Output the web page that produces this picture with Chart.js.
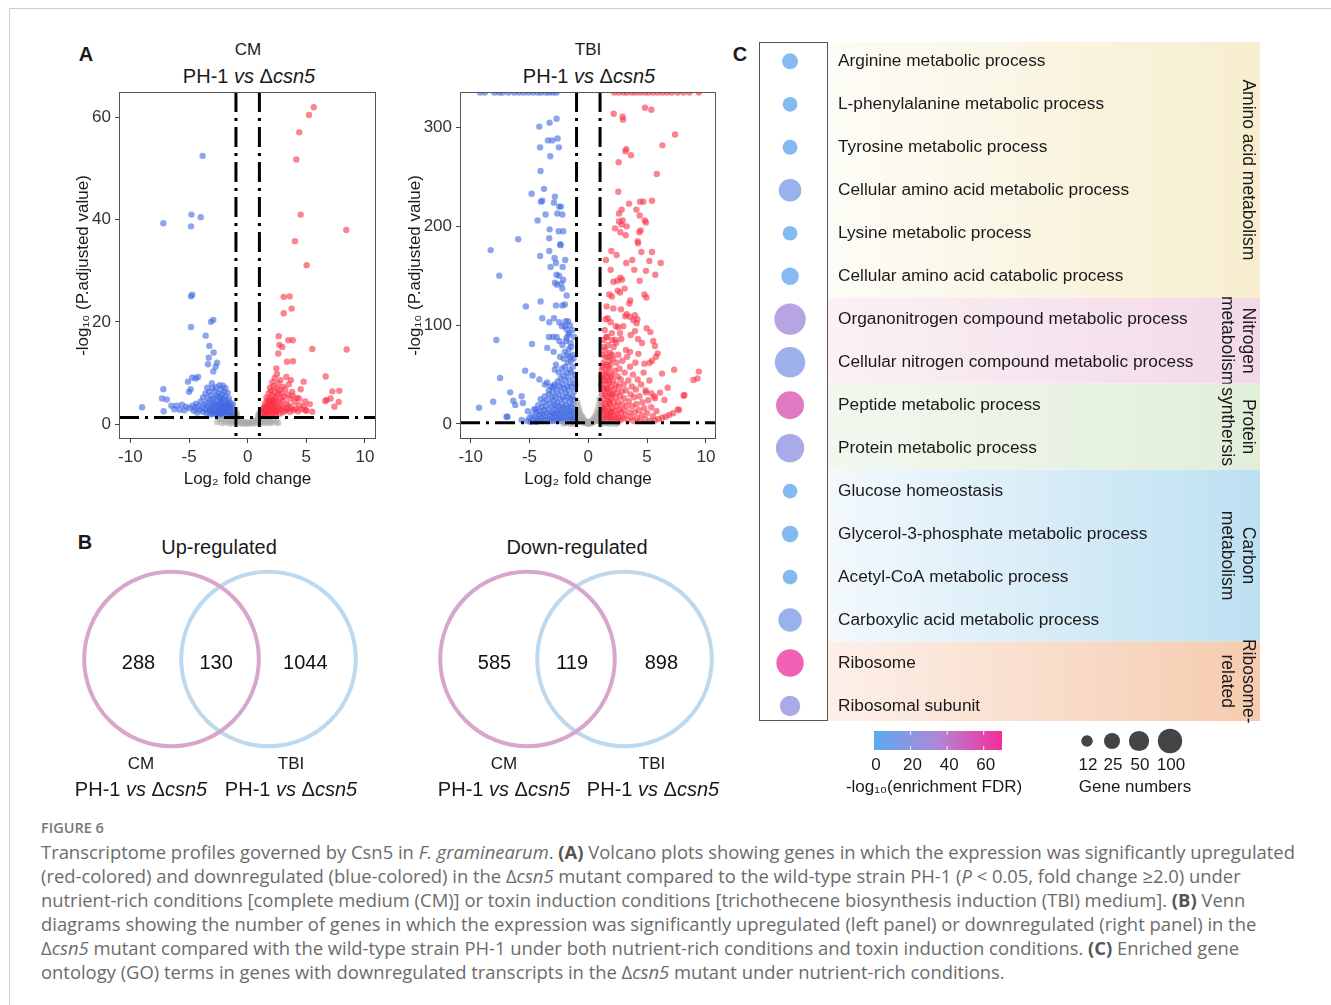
<!DOCTYPE html>
<html>
<head>
<meta charset="utf-8">
<script src="https://cdn.jsdelivr.net/npm/chart.js@4.4.1/dist/chart.umd.min.js"></script>
<style>
  body { margin: 0; background: #fff; font-family: "Liberation Sans", Arial, sans-serif; color: #1a1a1a; }
  #page { position: relative; width: 1331px; height: 1005px; overflow: hidden; }
  .frame { position: absolute; left: 9px; top: 8px; width: 1400px; height: 1100px; border-top: 1px solid #cfcfcf; border-left: 1px solid #cfcfcf; }
  canvas { position: absolute; }
  .t { position: absolute; transform: translate(-50%, -50%); white-space: nowrap; }
  .letter { font-weight: bold; font-size: 20px; }
  .s17 { font-size: 17px; }
  .s20 { font-size: 20px; }
  #caption { position: absolute; left: 41px; top: 818px; font-family: "Open Sans", Lato, sans-serif; color: #6b6b6b; white-space: nowrap; }
  #caption .fig { font-size: 14.5px; font-weight: 600; line-height: 20px; color: #777; margin-bottom: 2px; }
  #caption .ln { font-size: 18.4px; line-height: 24px; }
  #caption b { color: #555; }
</style>
</head>
<body>
<div id="page">
  <div class="frame"></div>

  <!-- panel A -->
  <div class="t letter" style="left:86px;top:54px">A</div>
  <div class="t s17" style="left:248px;top:50px">CM</div>
  <div class="t s20" style="left:249px;top:76px">PH-1 <i>vs</i> Δ<i>csn5</i></div>
  <div class="t s17" style="left:588px;top:50px">TBI</div>
  <div class="t s20" style="left:589px;top:76px">PH-1 <i>vs</i> Δ<i>csn5</i></div>
  <canvas id="volcanoCM" width="330" height="410" style="left:60px;top:85px"></canvas>
  <canvas id="volcanoTBI" width="330" height="410" style="left:400px;top:85px"></canvas>

  <!-- panel B -->
  <div class="t letter" style="left:85px;top:542px">B</div>
  <div class="t s20" style="left:219px;top:547px">Up-regulated</div>
  <div class="t s20" style="left:577px;top:547px">Down-regulated</div>
  <canvas id="vennUp" width="330" height="200" style="left:55px;top:559px"></canvas>
  <canvas id="vennDown" width="330" height="200" style="left:411px;top:559px"></canvas>
  <div class="t s17" style="left:141px;top:764px">CM</div>
  <div class="t s20" style="left:141px;top:789px">PH-1 <i>vs</i> Δ<i>csn5</i></div>
  <div class="t s17" style="left:291px;top:764px">TBI</div>
  <div class="t s20" style="left:291px;top:789px">PH-1 <i>vs</i> Δ<i>csn5</i></div>
  <div class="t s17" style="left:504px;top:764px">CM</div>
  <div class="t s20" style="left:504px;top:789px">PH-1 <i>vs</i> Δ<i>csn5</i></div>
  <div class="t s17" style="left:652px;top:764px">TBI</div>
  <div class="t s20" style="left:653px;top:789px">PH-1 <i>vs</i> Δ<i>csn5</i></div>

  <!-- panel C -->
  <div class="t letter" style="left:740px;top:54px">C</div>
  <canvas id="goChart" width="540" height="780" style="left:730px;top:26px"></canvas>

  <div id="caption">
    <div class="fig">FIGURE 6</div>
    <div class="ln">Transcriptome profiles governed by Csn5 in <i>F. graminearum</i>. <b>(A)</b> Volcano plots showing genes in which the expression was significantly upregulated</div>
    <div class="ln">(red-colored) and downregulated (blue-colored) in the Δ<i>csn5</i> mutant compared to the wild-type strain PH-1 (<i>P</i> &lt; 0.05, fold change ≥2.0) under</div>
    <div class="ln">nutrient-rich conditions [complete medium (CM)] or toxin induction conditions [trichothecene biosynthesis induction (TBI) medium]. <b>(B)</b> Venn</div>
    <div class="ln">diagrams showing the number of genes in which the expression was significantly upregulated (left panel) or downregulated (right panel) in the</div>
    <div class="ln">Δ<i>csn5</i> mutant compared with the wild-type strain PH-1 under both nutrient-rich conditions and toxin induction conditions. <b>(C)</b> Enriched gene</div>
    <div class="ln">ontology (GO) terms in genes with downregulated transcripts in the Δ<i>csn5</i> mutant under nutrient-rich conditions.</div>
  </div>
</div>

<script>
// ---------------- DATA ----------------
// volcano thresholds
const fcCut = 1;          // |log2 fold change|
const padjCut = 1.30;     // -log10(0.05)

// CM: [log2FC, -log10 padj]
const cmDown = [
  [-3.84,52.5],[-7.19,39.3],[-4.8,41.0],[-4.83,38.7],[-4.0,40.5],[-4.83,25.0],[-4.72,25.3],[-4.83,19.0],
  [-3.13,20.0],[-2.93,20.4],[-3.58,17.3],[-3.27,15.3],[-2.9,14.0],[-3.32,13.0],[-3.38,11.7],[-2.61,12.0],
  [-2.73,11.2],[-2.93,10.3],[-5.09,8.3],[-4.72,9.1],[-4.23,9.2],[-4.43,8.9],[-7.19,6.8],[-7.3,5.0],
  [-9.0,3.3],[-7.16,2.5],[-5.0,6.3],[-4.86,6.8],[-6.9,4.8],[-6.5,3.6],[-6.05,3.6],[-5.6,3.8],[-5.25,3.4],
  [-6.25,2.9],[-5.8,2.8],[-5.4,2.7],[-4.95,3.1],[-3.45,7.1],[-3.05,8.0],
  [-1.1,1.5],[-1.2,2.0],[-1.3,1.6],[-1.3,2.8],[-1.4,1.9],[-1.4,3.5],[-1.5,2.4],[-1.5,4.2],[-1.6,1.7],
  [-1.6,3.1],[-1.6,5.0],[-1.7,2.2],[-1.7,3.8],[-1.7,6.1],[-1.8,1.6],[-1.8,2.9],[-1.8,4.6],[-1.9,2.1],
  [-1.9,3.4],[-1.9,5.4],[-1.9,7.0],[-2.0,1.8],[-2.0,2.6],[-2.0,4.1],[-2.0,6.3],[-2.1,1.5],[-2.1,3.0],
  [-2.1,4.9],[-2.1,7.5],[-2.2,2.3],[-2.2,3.7],[-2.2,5.8],[-2.3,1.7],[-2.3,2.9],[-2.3,4.4],[-2.3,6.8],
  [-2.4,2.0],[-2.4,3.3],[-2.4,5.2],[-2.4,7.6],[-2.5,1.6],[-2.5,2.7],[-2.5,4.0],[-2.5,6.0],[-2.6,2.2],
  [-2.6,3.6],[-2.6,5.5],[-2.7,1.9],[-2.7,3.0],[-2.7,4.7],[-2.7,7.2],[-2.8,2.5],[-2.8,3.9],[-2.8,6.4],
  [-2.9,2.0],[-2.9,3.3],[-2.9,5.1],[-3.0,2.7],[-3.0,4.2],[-3.0,7.0],[-3.1,2.2],[-3.1,3.6],[-3.1,5.6],
  [-3.2,1.8],[-3.2,3.0],[-3.2,4.6],[-3.3,2.5],[-3.3,6.3],[-3.4,3.4],[-3.4,5.0],[-3.5,2.1],[-3.5,4.1],
  [-3.6,2.9],[-3.6,6.0],[-3.7,3.8],[-3.8,2.4],[-3.8,5.2],[-3.9,3.2],[-4.0,4.4],[-4.1,2.7],[-4.2,3.5],
  [-4.3,2.2],[-4.4,4.0],[-4.5,3.1],[-4.6,2.6],[-4.7,3.6],[-1.25,3.9],[-1.45,2.6],[-1.55,3.3],[-1.65,4.1],
  [-1.75,2.6],[-1.85,3.6],[-1.95,2.4],[-2.05,3.4],[-2.15,2.5],[-2.25,4.9],[-2.35,3.8],[-2.45,2.6]
];
const cmUp = [
  [5.63,62.0],[5.23,60.5],[4.4,57.1],[4.15,51.8],[4.52,41.0],[8.41,38.0],[4.03,35.8],[5.03,31.1],
  [3.07,24.9],[3.58,25.0],[3.75,22.6],[3.07,21.7],[2.64,17.2],[3.47,16.4],[3.84,16.4],[2.7,15.5],
  [2.95,15.1],[5.51,14.7],[8.44,14.6],[2.61,13.8],[3.35,12.2],[3.86,12.3],[2.44,10.9],[6.65,9.3],
  [4.77,8.3],[3.69,8.6],[4.52,6.8],[7.22,6.4],[7.81,6.5],[7.07,5.0],[6.62,4.5],[6.73,4.7],[7.76,4.3],
  [7.39,3.4],[4.9,4.4],[5.5,2.4],[4.94,2.7],[4.37,5.0],[3.84,5.5],
  [1.1,1.4],[1.2,1.8],[1.3,1.5],[1.3,2.6],[1.4,2.0],[1.4,3.3],[1.5,1.6],[1.5,2.8],[1.5,4.1],[1.6,2.2],
  [1.6,3.6],[1.6,5.2],[1.7,1.7],[1.7,3.0],[1.7,4.6],[1.8,2.4],[1.8,3.9],[1.8,6.0],[1.9,1.9],[1.9,3.2],
  [1.9,5.0],[1.9,7.1],[2.0,2.6],[2.0,4.3],[2.0,6.5],[2.1,1.6],[2.1,3.5],[2.1,5.6],[2.1,8.2],[2.2,2.2],
  [2.2,4.0],[2.2,7.4],[2.3,2.9],[2.3,4.8],[2.3,6.2],[2.3,9.0],[2.4,1.8],[2.4,3.6],[2.4,5.4],[2.5,2.5],
  [2.5,4.4],[2.5,7.0],[2.5,9.8],[2.6,3.1],[2.6,5.9],[2.6,8.0],[2.7,2.0],[2.7,4.0],[2.7,6.6],[2.8,2.8],
  [2.8,5.0],[2.8,8.6],[2.9,3.5],[2.9,6.0],[3.0,2.3],[3.0,4.6],[3.0,7.3],[3.1,3.1],[3.1,5.4],[3.2,2.6],
  [3.2,6.8],[3.3,4.0],[3.3,9.2],[3.4,2.9],[3.4,5.8],[3.5,3.6],[3.5,7.8],[3.6,2.4],[3.6,5.0],[3.7,3.2],
  [3.8,6.3],[3.9,2.7],[4.0,4.3],[4.1,3.0],[4.2,5.1],[4.3,2.5],[4.4,3.7],[4.6,2.9],[4.8,3.4],[5.0,2.6],
  [5.3,3.9],[1.25,2.2],[1.35,3.0],[1.45,2.4],[1.55,3.4],[1.65,2.7],[1.75,3.6],[1.85,4.4],[1.95,2.8],
  [2.05,3.7],[2.15,4.6],[2.25,3.2],[2.35,2.4]
];
const cmNs = [
  [-2.6,0.4],[-2.4,0.9],[-2.2,0.2],[-2.0,0.6],[-1.9,1.1],[-1.8,0.3],[-1.6,0.8],[-1.5,0.1],[-1.4,0.5],
  [-1.3,1.0],[-1.2,0.3],[-1.1,0.7],[-1.0,0.2],[-0.9,1.0],[-0.8,0.4],[-0.7,0.1],[-0.6,0.6],[-0.5,0.3],
  [-0.4,0.05],[-0.3,0.4],[-0.2,0.15],[-0.1,0.3],[0.0,0.05],[0.1,0.25],[0.2,0.1],[0.3,0.4],[0.4,0.2],
  [0.5,0.6],[0.6,0.1],[0.7,0.8],[0.8,0.3],[0.9,1.1],[1.0,0.5],[1.1,0.2],[1.2,0.9],[1.3,0.4],[1.4,1.0],
  [1.5,0.2],[1.6,0.7],[1.7,0.3],[1.8,1.0],[1.9,0.5],[2.0,0.2],[2.2,0.8],[2.4,0.4],[2.6,0.2],
  [-0.9,1.6],[0.9,1.7],[-0.95,2.2],[0.95,2.0]
];

// TBI: [log2FC, -log10 padj]  (values at 335.5 are capped at the panel top)
const tbiDown = [
  [-9.2,335.5],[-8.8,335.5],[-8.0,335.5],[-7.6,335.5],[-7.3,335.5],[-6.8,335.5],[-6.3,335.5],[-5.9,335.5],
  [-5.5,335.5],[-5.1,335.5],[-4.7,335.5],[-4.3,335.5],[-4.0,335.5],[-3.6,335.5],[-3.3,335.5],[-3.0,335.5],[-2.7,335.5],
  [-4.17,301],[-3.29,305],[-2.7,309],[-3.43,287],[-3.06,287],[-2.61,289],[-4.1,280],[-2.5,280],[-3.23,271],
  [-4.06,256],[-3.77,238],[-4.82,233],[-3.91,226],[-4.03,225],[-2.84,230],[-2.92,224],[-2.47,220],[-2.33,220],
  [-2.64,213],[-2.21,212],[-3.63,212],[-4.31,206],[-3.29,197],[-3.32,188],[-2.52,195],[-2.13,195],[-5.96,187],
  [-2.38,182],[-2.36,181],[-8.3,176],[-3.32,175],[-4.09,170],[-2.87,168],[-1.96,166],[-2.75,163],[-3.21,159],
  [-2.18,159],[-7.57,150],[-2.7,151],[-2.48,150],[-2.13,146],[-2.3,142],[-2.21,137],[-2.84,143],[-2.67,141],
  [-1.84,130],[-4.06,124],[-2.75,120],[-2.21,120],[-1.99,121],[-5.31,119],[-3.91,107],[-2.92,107],[-1.73,104],
  [-1.93,104],[-3.32,103],[-2.47,103],[-2.24,99],[-1.99,99],[-7.82,85],[-4.79,81],[-3.35,88],[-3.01,88],
  [-2.7,88],[-2.47,84],[-1.84,87],[-1.62,92],[-3.49,77],[-2.95,73],[-5.37,54],[-4.74,49],[-7.5,46.5],
  [-4.16,45],[-2.84,55],[-6.64,32],[-8.09,22.6],[-9.29,16.5],[-6.38,23.6],[-6.21,19.2],[-5.56,21.2],
  [-5.67,28],[-6.87,7.4],[-6.95,7.4],[-5.14,13],[-5.67,4],[-4.48,14.8],[-3.69,40],[-3.35,34],[-2.98,38],
  [-1.05,3],[-1.1,8],[-1.1,15],[-1.15,24],[-1.2,4],[-1.2,33],[-1.25,12],[-1.25,45],[-1.3,6],[-1.3,20],
  [-1.3,58],[-1.35,28],[-1.35,70],[-1.4,2],[-1.4,10],[-1.4,38],[-1.45,17],[-1.45,52],[-1.5,5],[-1.5,26],
  [-1.5,82],[-1.5,64],[-1.55,13],[-1.55,41],[-1.6,3],[-1.6,22],[-1.6,55],[-1.65,9],[-1.65,34],[-1.65,76],
  [-1.7,16],[-1.7,47],[-1.7,90],[-1.75,4],[-1.75,28],[-1.75,62],[-1.8,11],[-1.8,38],[-1.8,70],[-1.85,19],
  [-1.85,52],[-1.9,6],[-1.9,31],[-1.9,84],[-1.95,14],[-1.95,44],[-2.0,2],[-2.0,24],[-2.0,58],[-2.0,73],
  [-2.05,9],[-2.05,36],[-2.1,17],[-2.1,49],[-2.1,66],[-2.15,4],[-2.15,27],[-2.2,12],[-2.2,40],[-2.2,80],
  [-2.25,20],[-2.25,56],[-2.3,7],[-2.3,33],[-2.35,15],[-2.35,46],[-2.4,3],[-2.4,25],[-2.4,68],[-2.45,10],
  [-2.45,38],[-2.5,18],[-2.5,52],[-2.55,6],[-2.55,30],[-2.6,13],[-2.6,43],[-2.65,22],[-2.7,4],[-2.7,35],
  [-2.75,11],[-2.75,60],[-2.8,19],[-2.8,28],[-2.85,7],[-2.85,40],[-2.9,15],[-2.95,3],[-2.95,24],[-3.0,10],
  [-3.0,33],[-3.05,18],[-3.1,6],[-3.1,27],[-3.15,12],[-3.2,38],[-3.2,3],[-3.25,21],[-3.3,9],[-3.35,30],
  [-3.4,15],[-3.45,5],[-3.5,24],[-3.5,42],[-3.55,11],[-3.6,18],[-3.65,4],[-3.7,28],[-3.7,8],[-3.75,14],
  [-3.8,22],[-3.85,3],[-3.9,10],[-3.95,17],[-4.0,6],[-4.05,25],[-4.1,13],[-4.15,3],[-4.2,9],[-4.25,19],
  [-4.3,5],[-4.4,12],[-4.45,2],[-4.5,7],[-4.6,15],[-4.7,4],[-4.8,9],[-4.9,2],[-5.0,6],[-5.2,3],
  [-1.15,50],[-1.2,88],[-1.25,66],[-1.35,95],[-1.45,78],[-1.55,100],[-1.6,68],[-1.85,96],[-1.1,40]
];
const tbiUp = [
  [2.2,335.5],[2.6,335.5],[3.0,335.5],[3.3,335.5],[3.7,335.5],[4.0,335.5],[4.4,335.5],[4.8,335.5],[5.1,335.5],
  [5.5,335.5],[5.9,335.5],[6.3,335.5],[6.7,335.5],[7.1,335.5],[7.6,335.5],[8.1,335.5],[8.6,335.5],[9.4,335.5],
  [4.82,320],[5.36,318],[2.16,314],[2.92,311],[2.95,308],[7.38,293],[6.3,282],[3.23,278],[3.15,276],
  [3.63,272],[2.58,265],[5.82,253],[2.55,235],[5.42,226],[4.4,225],[4.68,225],[3.46,223],[4.09,217],
  [2.84,217],[2.61,213],[4.37,211],[2.92,206],[2.61,205],[2.84,202],[4.8,206],[4.9,204],[2.27,198],
  [3.26,200],[2.72,194],[3.18,191],[4.45,196],[4.34,194],[4.2,185],[4.23,183],[1.96,175],[2.41,171],
  [4.51,174],[5.42,174],[3.74,166],[5.19,165],[6.16,163],[1.5,166],[3.23,163],[1.9,156],[3.91,156],
  [4.9,155],[5.7,151],[2.72,148],[2.13,144],[2.47,145],[2.87,146],[4.37,145],[3.09,137],[2.5,135],
  [2.7,133],[1.79,131],[2.01,129],[4.77,131],[4.94,128],[3.57,125],[3.49,122],[1.56,119],[2.13,117],
  [2.78,116],[3.26,111],[3.15,109],[3.55,108.5],[3.97,110],[4.17,106],[3.83,105],[4.11,102],[1.65,107],
  [1.47,106],[1.9,103],[2.35,99],[2.55,98],[2.98,99],[4.96,97],[5.28,93],[3.97,94],[3.6,90],[2.7,92],
  [4.23,86],[4.57,82],[5.52,84],[5.67,79],[1.59,88],[2.04,85],[2.38,82],[3.2,75],[3.55,73],[4.26,71],
  [5.76,68],[5.9,71.5],[5.22,62],[5.42,64],[4.77,61],[7.3,55],[6.27,51],[9.4,53],[8.94,44.5],[9.28,46],
  [6.75,36.7],[8.17,29.3],[8.11,28.6],[6.1,31.7],[6.47,24.3],[5.67,26],[4.88,34],[5.36,31],[7.61,14.8],
  [7.72,14.2],[7.21,10.8],[6.87,9.1],[6.58,7.4],[6.27,6.4],[5.96,5],[5.65,3.4],
  [1.05,2],[1.05,12],[1.1,6],[1.1,22],[1.1,40],[1.15,30],[1.15,55],[1.2,3],[1.2,16],[1.2,70],[1.25,9],
  [1.25,45],[1.3,25],[1.3,85],[1.3,62],[1.35,5],[1.35,35],[1.4,14],[1.4,50],[1.4,95],[1.45,20],[1.45,75],
  [1.5,2],[1.5,40],[1.5,60],[1.55,10],[1.55,28],[1.55,88],[1.6,4],[1.6,18],[1.6,48],[1.65,35],[1.65,68],
  [1.7,8],[1.7,24],[1.7,80],[1.75,14],[1.75,55],[1.8,3],[1.8,32],[1.8,42],[1.85,20],[1.85,72],[1.9,7],
  [1.9,26],[1.9,60],[1.95,12],[1.95,38],[2.0,4],[2.0,50],[2.0,92],[2.05,16],[2.05,30],[2.1,8],[2.1,44],
  [2.1,66],[2.15,22],[2.15,78],[2.2,3],[2.2,35],[2.25,13],[2.25,54],[2.3,27],[2.3,85],[2.35,6],[2.35,40],
  [2.4,18],[2.4,62],[2.45,10],[2.45,32],[2.5,2],[2.5,48],[2.55,22],[2.55,70],[2.6,7],[2.6,38],[2.65,15],
  [2.65,56],[2.7,28],[2.75,4],[2.75,45],[2.8,12],[2.8,86],[2.85,33],[2.9,20],[2.9,64],[2.95,6],[3.0,40],
  [3.0,14],[3.05,26],[3.1,52],[3.15,9],[3.2,34],[3.25,18],[3.3,68],[3.35,4],[3.4,44],[3.45,23],[3.5,12],
  [3.55,58],[3.6,30],[3.65,7],[3.7,38],[3.75,18],[3.8,50],[3.85,3],[3.9,27],[3.95,12],[4.0,62],[4.05,35],
  [4.1,20],[4.15,6],[4.2,45],[4.3,14],[4.35,28],[4.4,3],[4.5,40],[4.55,9],[4.6,22],[4.7,52],[4.75,16],
  [4.85,5],[4.9,32],[5.0,11],[5.1,24],[5.2,44],[5.25,3],[5.35,17],[5.5,8],[5.6,28],[5.8,13],
  [1.08,18],[1.12,48],[1.18,36],[1.22,58],[1.28,14],[1.32,78],[1.38,44],[1.42,30],[1.48,68],[1.52,52],
  [1.58,36],[1.62,8],[1.68,58],[1.72,44],[1.78,22],[1.82,64],[1.88,12],[1.92,48],[1.98,30],[2.02,70]
];
const tbiNs = [
  [-0.95,22],[-0.9,15],[-0.9,8],[-0.85,18],[-0.8,11],[-0.8,4],[-0.75,14],[-0.7,7],[-0.7,2],[-0.65,10],
  [-0.6,5],[-0.55,8],[-0.5,3],[-0.45,6],[-0.4,1.5],[-0.35,4],[-0.3,2],[-0.25,3],[-0.2,1],[-0.15,2],
  [-0.1,0.5],[-0.05,1.5],[0,0.3],[0.05,1],[0.1,2],[0.15,0.5],[0.2,2.5],[0.25,1],[0.3,3],[0.35,1.5],
  [0.4,4.5],[0.45,2],[0.5,6],[0.55,3],[0.6,8],[0.65,4],[0.7,11],[0.75,6],[0.8,15],[0.8,3],[0.85,9],
  [0.9,20],[0.9,12],[0.95,25],[0.95,5],[-1.2,0.6],[-1.5,0.3],[-1.8,0.9],[-2.1,0.4],[1.2,0.5],[1.5,1.0],
  [1.8,0.3],[2.1,0.7],[2.4,0.2]
];

// Venn counts: [only CM, both, only TBI]
const vennSets = ['CM', 'TBI'];
const upCounts = [288, 130, 1044];
const downCounts = [585, 119, 898];

// GO enrichment (downregulated, CM)
const goTerms = [
  'Arginine metabolic process', 'L-phenylalanine metabolic process', 'Tyrosine metabolic process',
  'Cellular amino acid metabolic process', 'Lysine metabolic process', 'Cellular amino acid catabolic process',
  'Organonitrogen compound metabolic process', 'Cellular nitrogen compound metabolic process',
  'Peptide metabolic process', 'Protein metabolic process', 'Glucose homeostasis',
  'Glycerol-3-phosphate metabolic process', 'Acetyl-CoA metabolic process', 'Carboxylic acid metabolic process',
  'Ribosome', 'Ribosomal subunit'
];
const goGenes = [25, 20, 21, 74, 20, 32, 318, 270, 181, 193, 20, 27, 20, 85, 164, 51];
const goFdr = [4, 3, 3, 14, 3, 4, 30, 16, 55, 22, 2, 3, 3, 15, 67, 24];
const goGroups = [['Amino acid metabolism'], ['Nitrogen', 'metabolism'], ['Protein', 'synthersis'],
                  ['Carbon', 'metabolism'], ['Ribosome-', 'related']];
const goGroupSizes = [6, 2, 2, 4, 2];
const fdrTicks = [0, 20, 40, 60];
const sizeKeys = [12, 25, 50, 100];

// ---------------- HELPERS ----------------
Chart.defaults.font.family = '"Liberation Sans", Arial, sans-serif';
Chart.defaults.color = '#1a1a1a';
Chart.defaults.animation = false;
Chart.defaults.responsive = false;
Chart.defaults.events = [];
Chart.defaults.plugins.legend.display = false;
Chart.defaults.plugins.tooltip.enabled = false;

const toPts = arr => arr.map(p => ({ x: p[0], y: p[1] }));

// colour scale for -log10 FDR
const fdrStops = [[0, [90, 170, 240]], [35, [175, 135, 215]], [70, [245, 45, 155]]];
function fdrColor(v, a) {
  v = Math.max(0, Math.min(70, v));
  const i = v <= 35 ? 0 : 1;
  const [v0, c0] = fdrStops[i], [v1, c1] = fdrStops[i + 1];
  const t = (v - v0) / (v1 - v0);
  const c = c0.map((c, k) => Math.round(c + (c1[k] - c) * t));
  return `rgba(${c[0]},${c[1]},${c[2]},${a})`;
}
// bubble radius for gene numbers
const geneRadius = n => -1.7 + 3.02 * Math.log(n);

// no extra label padding around the plot panel
const noPad = s => { s.paddingTop = 0; s.paddingBottom = 0; s.paddingLeft = 0; s.paddingRight = 0; };

// panel border
const panelBorder = {
  id: 'panelBorder',
  afterDraw(chart) {
    const { ctx, chartArea: a } = chart;
    ctx.save();
    ctx.strokeStyle = '#555';
    ctx.lineWidth = 1;
    ctx.strokeRect(Math.round(a.left) + 0.5, Math.round(a.top) + 0.5, Math.round(a.right - a.left) - 1, Math.round(a.bottom - a.top) - 1);
    ctx.restore();
  }
};

// dash-dot cut-off lines
const cutLines = {
  id: 'cutLines',
  afterDatasetsDraw(chart) {
    const { ctx, chartArea: a, scales: { x, y } } = chart;
    ctx.save();
    ctx.beginPath();
    ctx.rect(a.left, a.top, a.right - a.left, a.bottom - a.top);
    ctx.clip();
    ctx.strokeStyle = '#000';
    ctx.lineWidth = 3;
    ctx.setLineDash([20, 6, 3, 6]);
    [-fcCut, fcCut].forEach(v => {
      const px = x.getPixelForValue(v);
      ctx.beginPath();
      ctx.moveTo(px, a.top);
      ctx.lineTo(px, a.bottom);
      ctx.stroke();
    });
    const py = y.getPixelForValue(padjCut);
    ctx.beginPath();
    ctx.moveTo(a.left, py);
    ctx.lineTo(a.right, py);
    ctx.stroke();
    ctx.restore();
  }
};

function volcano(id, down, up, ns, xr, yr, yStep, yAxisW, yTitlePad) {
  const ds = (data, color) => ({ data: toPts(data), backgroundColor: color, borderWidth: 0, pointRadius: 3.2, clip: 0 });
  return new Chart(document.getElementById(id), {
    type: 'scatter',
    data: {
      datasets: [
        ds(ns, 'rgba(170,170,170,0.6)'),
        ds(down, 'rgba(65,105,225,0.6)'),
        ds(up, 'rgba(250,50,70,0.6)')
      ]
    },
    options: {
      layout: { padding: { top: 7, right: 14, left: 0, bottom: 0 } },
      scales: {
        x: {
          type: 'linear', min: xr[0], max: xr[1],
          afterFit: s => { s.height = 56; noPad(s); },
          ticks: { stepSize: 5, includeBounds: false, padding: 4, color: '#333', font: { size: 17 } },
          grid: { drawOnChartArea: false, tickLength: 4, color: '#444' },
          border: { display: false },
          title: { display: true, text: 'Log₂ fold change', color: '#1a1a1a', font: { size: 17 }, padding: { top: 0, bottom: 5 } }
        },
        y: {
          type: 'linear', min: yr[0], max: yr[1],
          afterFit: s => { s.width = yAxisW; noPad(s); },
          ticks: { stepSize: yStep, includeBounds: false, padding: 4, color: '#333', font: { size: 17 } },
          grid: { drawOnChartArea: false, tickLength: 4, color: '#444' },
          border: { display: false },
          title: { display: true, text: '-log₁₀ (P.adjusted value)', color: '#1a1a1a', font: { size: 17 }, padding: { top: yTitlePad, bottom: 0 } }
        }
      }
    },
    plugins: [cutLines, panelBorder]
  });
}

// ---------------- PANEL A ----------------
volcano('volcanoCM', cmDown, cmUp, cmNs, [-10.97, 10.94], [-2.93, 65.0], 20, 59, 12.8);
volcano('volcanoTBI', tbiDown, tbiUp, tbiNs, [-10.91, 10.86], [-15.2, 336], 100, 60, 4.8);

// ---------------- PANEL B ----------------
const regionX = [-0.84, -0.04, 0.88];
const vennCounts = {
  id: 'vennCounts',
  afterDatasetsDraw(chart, args, opts) {
    const { ctx, scales: { x, y } } = chart;
    ctx.save();
    ctx.fillStyle = '#111';
    ctx.font = '20px "Liberation Sans", Arial, sans-serif';
    ctx.textAlign = 'center';
    ctx.textBaseline = 'middle';
    opts.counts.forEach((c, i) => ctx.fillText(String(c), x.getPixelForValue(regionX[i]), y.getPixelForValue(0) + 4));
    ctx.restore();
  }
};
function venn(id, counts) {
  const canvas = document.getElementById(id);
  const unit = 97;                 // pixels per x-unit (circle centres sit at +-0.5)
  const ring = 0.9 * unit;         // ring radius in pixels
  const bw = 4;
  // bubble charts keep the plot area inset by (radius + border); size the axes so 1 unit = `unit` px
  const xHalf = (canvas.width / 2 - ring - bw) / unit;
  const yHalf = (canvas.height / 2 - ring - bw) / unit;
  return new Chart(canvas, {
    type: 'bubble',
    data: {
      datasets: vennSets.map((name, i) => ({
        label: name,
        data: [{ x: i === 0 ? -0.5 : 0.5, y: 0, r: ring }],
        backgroundColor: 'rgba(0,0,0,0)',
        borderColor: i === 0 ? 'rgb(216,166,204)' : 'rgb(190,216,238)',
        borderWidth: bw,
        clip: false
      }))
    },
    options: {
      layout: { padding: 0 },
      plugins: { vennCounts: { counts } },
      scales: {
        x: { type: 'linear', min: -xHalf, max: xHalf, display: false },
        y: { type: 'linear', min: -yHalf, max: yHalf, display: false }
      }
    },
    plugins: [vennCounts]
  });
}
venn('vennUp', upCounts);
venn('vennDown', downCounts);

// ---------------- PANEL C ----------------
const bandColors = [
  ['#fdfcf6', '#f7eecf'], ['#fbf1f6', '#f2d9e7'], ['#f3f8ef', '#e1eed8'],
  ['#f3f9fd', '#bde0f2'], ['#fdf0e9', '#f5cbae']
];
const goBands = {
  id: 'goBands',
  beforeDraw(chart) {
    const { ctx, chartArea: a, scales: { y } } = chart;
    const left = a.right, right = a.right + 432;
    let start = 0;
    ctx.save();
    goGroupSizes.forEach((n, g) => {
      const top = Math.max(a.top, y.getPixelForValue(start - 0.5));
      const bot = Math.min(a.bottom, y.getPixelForValue(start + n - 0.5));
      const grad = ctx.createLinearGradient(left, 0, right, 0);
      grad.addColorStop(0, bandColors[g][0]);
      grad.addColorStop(1, bandColors[g][1]);
      ctx.fillStyle = grad;
      ctx.fillRect(left, top, right - left, bot - top);
      // group name, rotated
      ctx.fillStyle = '#1a1a1a';
      ctx.font = '17.5px "Liberation Sans", Arial, sans-serif';
      ctx.textAlign = 'center';
      ctx.textBaseline = 'middle';
      goGroups[g].forEach((line, k) => {
        ctx.save();
        ctx.translate(right - 12 - k * 21, (top + bot) / 2);
        ctx.rotate(Math.PI / 2);
        ctx.fillText(line, 0, 0);
        ctx.restore();
      });
      start += n;
    });
    ctx.restore();
  }
};
const goLegend = {
  id: 'goLegend',
  afterDraw(chart) {
    const { ctx, chartArea: a } = chart;
    ctx.save();
    // colour bar
    const bx0 = a.left + 115, bx1 = a.left + 243, by = a.bottom + 10, bh = 19;
    const vmax = 70;
    const grad = ctx.createLinearGradient(bx0, 0, bx1, 0);
    for (let v = 0; v <= vmax; v += 7) grad.addColorStop(v / vmax, fdrColor(v, 1));
    ctx.fillStyle = grad;
    ctx.fillRect(bx0, by, bx1 - bx0, bh);
    ctx.strokeStyle = 'rgba(255,255,255,0.9)';
    ctx.lineWidth = 1;
    ctx.font = '17px "Liberation Sans", Arial, sans-serif';
    ctx.textAlign = 'center';
    ctx.textBaseline = 'middle';
    fdrTicks.forEach(v => {
      const px = bx0 + (bx1 - bx0) * v / vmax;
      if (v > 0) {
        ctx.beginPath();
        ctx.moveTo(px, by); ctx.lineTo(px, by + 4);
        ctx.moveTo(px, by + bh - 4); ctx.lineTo(px, by + bh);
        ctx.stroke();
      }
      ctx.fillStyle = '#1a1a1a';
      ctx.fillText(String(v), px + 2, by + 34);
    });
    ctx.fillText('-log₁₀(enrichment FDR)', a.left + 175, by + 56);
    // size legend
    const keyX = [328, 353, 380, 411];
    sizeKeys.forEach((n, i) => {
      ctx.fillStyle = '#444';
      ctx.beginPath();
      ctx.arc(a.left + keyX[i], by + 10, geneRadius(n), 0, Math.PI * 2);
      ctx.fill();
      ctx.fillStyle = '#1a1a1a';
      ctx.fillText(String(n), a.left + keyX[i] + 1, by + 34);
    });
    ctx.fillText('Gene numbers', a.left + 376, by + 56);
    ctx.restore();
  }
};
new Chart(document.getElementById('goChart'), {
  type: 'bubble',
  data: {
    datasets: [{
      data: goTerms.map((t, i) => ({ x: 0, y: i, r: geneRadius(goGenes[i]) })),
      backgroundColor: goFdr.map(v => fdrColor(v, 0.78)),
      borderWidth: 0,
      clip: false
    }]
  },
  options: {
    layout: { padding: { left: 29, top: 16, right: 10, bottom: 85 } },
    scales: {
      x: { type: 'linear', min: -0.9, max: 1.1, display: false },
      y: {
        type: 'linear', position: 'right', reverse: true, min: -0.45, max: 15.35,
        afterFit: s => { s.width = 432; noPad(s); },
        afterBuildTicks: s => { s.ticks = goTerms.map((t, i) => ({ value: i })); },
        ticks: { callback: v => goTerms[v], color: '#1a1a1a', font: { size: 17.3 }, padding: 10, autoSkip: false },
        grid: { display: false, drawTicks: false },
        border: { display: false }
      }
    }
  },
  plugins: [goBands, goLegend, panelBorder]
});
</script>
</body>
</html>
